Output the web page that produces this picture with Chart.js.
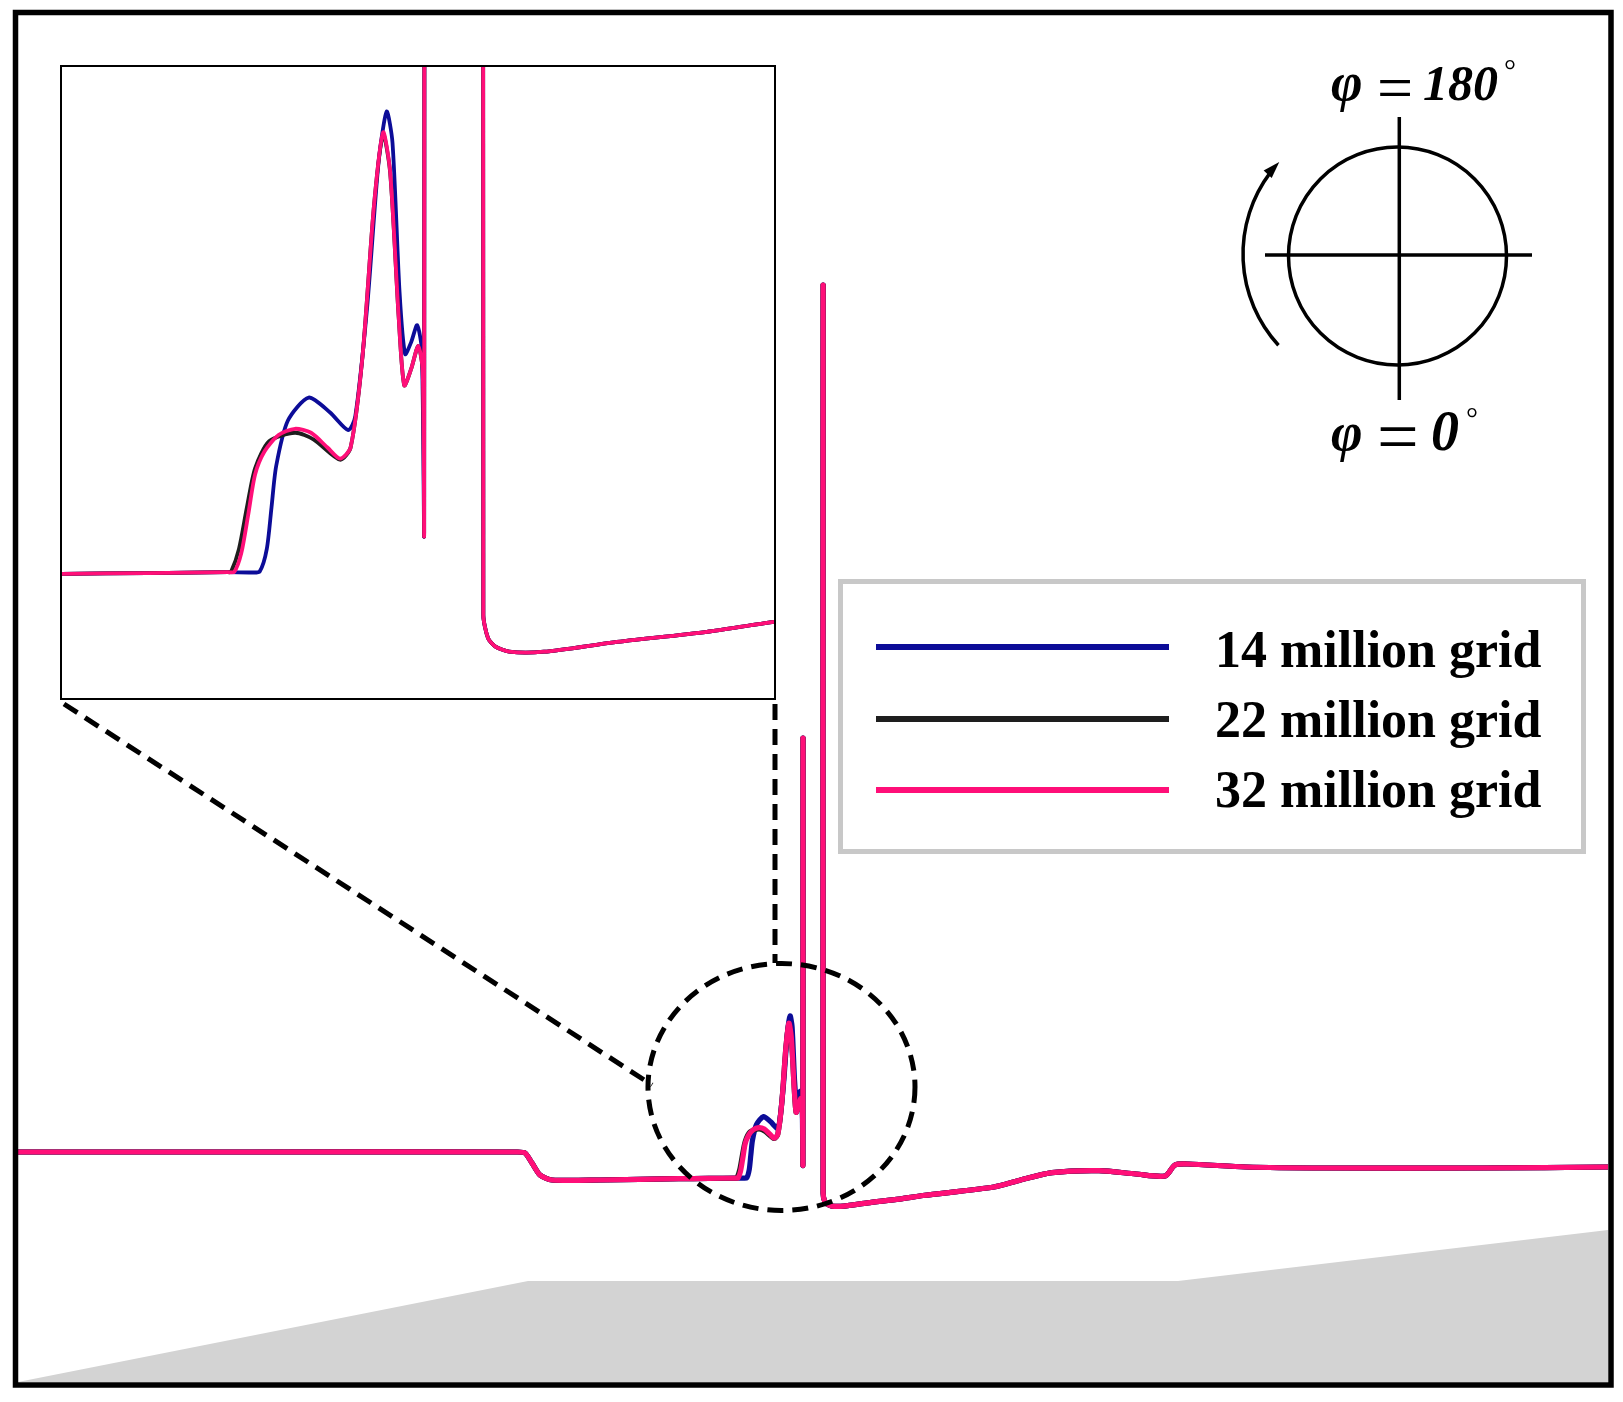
<!DOCTYPE html>
<html>
<head>
<meta charset="utf-8">
<script src="https://cdn.jsdelivr.net/npm/chart.js@4.4.1/dist/chart.umd.min.js"></script>
<style>
  body { margin: 0; background: #fff; }
  #page { position: relative; width: 1623px; height: 1402px; overflow: hidden; background: #fff; }
  #main { position: absolute; left: 0; top: 0; }
  #inset-box { position: absolute; left: 60px; top: 65px; width: 716px; height: 635px;
    border: 2px solid #000; box-sizing: border-box; background: #fff; }
  #inset { display: block; }
  #legend { position: absolute; left: 838px; top: 579px; width: 748px; height: 275px;
    border: 5px solid #c8c8c8; box-sizing: border-box; background: #fff; }
  .lg-line { position: absolute; height: 6px; }
  .lg-text { position: absolute; font: bold 52px "Liberation Serif", "Times New Roman", serif;
    line-height: 52px; white-space: nowrap; color: #000; }
  .lbl { position: absolute; font-family: "Liberation Serif", "Times New Roman", serif;
    white-space: nowrap; color: #000; }
</style>
</head>
<body>
<div id="page">
  <canvas id="main" width="1623" height="1402"></canvas>
  <div id="inset-box"><canvas id="inset" width="712" height="631"></canvas></div>
  <div id="legend"></div>
</div>
<script>
// ---- data (x = position along the surface, y = pressure, arbitrary units) ----

// part of the surface where all three grids agree (upstream of the peak)
const upstreamX = [0, 23.2, 49.9, 50.7, 51.4, 52.2, 53.4, 58.2, 66.08, 69.06, 71.8];
const upstreamY = [23.0, 23.0, 23.0, 22.9, 21.9, 20.7, 20.2, 20.2, 20.33, 20.36, 20.39];

// peak region, different for each grid
const peak14X = [72.6, 72.88, 73.12, 73.28, 73.44, 73.84, 74.55, 75.27, 75.90, 76.14, 76.54, 76.93, 77.21, 77.41, 77.65, 77.84, 78.05, 78.25, 78.41];
const peak14Y = [20.38, 20.42, 21.21, 22.67, 24.13, 25.73, 26.54, 26.02, 25.39, 25.88, 29.67, 34.78, 36.61, 35.51, 30.26, 28.07, 28.50, 29.09, 28.22];

const peak22X = [71.90, 72.17, 72.44, 72.72, 73.20, 74.08, 74.71, 75.62, 75.98, 76.38, 76.78, 77.09, 77.33, 77.62, 77.81, 78.05, 78.29, 78.44];
const peak22Y = [20.40, 21.21, 22.67, 24.05, 25.00, 25.30, 25.07, 24.35, 24.78, 27.92, 33.32, 35.80, 34.45, 29.38, 26.97, 27.56, 28.36, 27.48];

const peak32X = [72.01, 72.25, 72.48, 72.72, 73.04, 73.52, 74.08, 74.63, 75.19, 75.62, 75.98, 76.38, 76.78, 77.09, 77.33, 77.62, 77.81, 78.05, 78.29, 78.44];
const peak32Y = [20.40, 21.06, 22.38, 23.83, 24.64, 25.22, 25.44, 25.30, 24.78, 24.39, 24.78, 27.92, 33.32, 35.88, 34.49, 29.38, 26.97, 27.56, 28.36, 27.48];

// spikes and downstream part, shared (null = break in the line)
const downX = [78.49, 78.50, 79.5, 80.51, 80.51, 80.67, 80.91, 81.39, 82.58, 84.96, 88.14, 90.49, 97.6, 100.25, 103.4, 108.1, 111.8, 114.7, 115.7, 117.0, 122.8, 130.7, 146.4, 159.0];
const downY = [21.79, 64.4, null, 109.7, 18.87, 18.07, 17.78, 17.59, 17.59, 17.92, 18.29, 18.65, 19.5, 20.2, 20.93, 21.13, 20.8, 20.6, 21.7, 21.8, 21.5, 21.4, 21.4, 21.5];

// grey body outline under the curve
const bodyX = [0, 51.0, 116.0, 159];
const bodyY = [0, 10.1, 10.1, 15.2];

// window shown in the magnified inset
const insetXRange = [66.13, 90.43];
const insetYRange = [15.96, 38.18];

const seriesNames = ['14 million grid', '22 million grid', '32 million grid'];
const seriesColors = ['#0c0c98', '#1e1e1e', '#ff0f78'];

// ---- helpers ----
function pts(xs, ys) {
  return xs.map((v, i) => ({ x: v, y: ys[i] }));
}
function series(peakX, peakY) {
  return pts(upstreamX, upstreamY).concat(pts(peakX, peakY), pts(downX, downY));
}

function lineSets(width) {
  // pink first so it is painted on top, blue at the bottom
  return [
    { label: seriesNames[2], data: series(peak32X, peak32Y), borderColor: seriesColors[2] },
    { label: seriesNames[1], data: series(peak22X, peak22Y), borderColor: seriesColors[1] },
    { label: seriesNames[0], data: series(peak14X, peak14Y), borderColor: seriesColors[0] },
  ].map(d => Object.assign(d, {
    borderWidth: width, pointRadius: 0, tension: 0.25, fill: false,
    borderJoinStyle: 'round', borderCapStyle: 'round', spanGaps: false,
  }));
}

// ---- decorations on the main chart (frame, zoom circle, phase sketch) ----
const decor = {
  id: 'decor',
  afterDatasetsDraw(chart) {
    const { ctx, chartArea: a, scales } = chart;
    const X = v => scales.x.getPixelForValue(v);
    const Y = v => scales.y.getPixelForValue(v);
    const u = X(1) - X(0); // pixels per unit
    ctx.save();

    // outer frame
    ctx.strokeStyle = '#000';
    ctx.lineWidth = 5.5;
    ctx.strokeRect(a.left - 2.5, a.top + 0.5, a.width + 5.5, a.height + 2.5);

    // dashed zoom ellipse and connectors to the inset
    ctx.lineWidth = 5;
    ctx.setLineDash([16, 9]);
    ctx.beginPath();
    ctx.ellipse(X(76.35), Y(29.5), 13.35 * u, 12.35 * u, 0, 0, Math.PI * 2);
    ctx.stroke();
    ctx.beginPath();
    ctx.moveTo(X(4.6), Y(67.8));
    ctx.lineTo(X(63.4), Y(29.7));
    ctx.moveTo(X(75.7), Y(67.8));
    ctx.lineTo(X(75.7), Y(41.9));
    ctx.stroke();
    ctx.setLineDash([]);

    // phase sketch: circle with cross
    ctx.lineWidth = 3.5;
    ctx.beginPath();
    ctx.arc(X(137.95), Y(112.6), 10.9 * u, 0, Math.PI * 2);
    ctx.stroke();
    ctx.beginPath();
    ctx.moveTo(X(124.7), Y(112.7));
    ctx.lineTo(X(151.4), Y(112.7));
    ctx.moveTo(X(138.13), Y(126.5));
    ctx.lineTo(X(138.13), Y(98.2));
    ctx.stroke();

    // rotation arrow
    const cx = X(136.0), cy = Y(112.8), r = 13.5 * u;
    const a0 = 137.5 * Math.PI / 180, aTip = 223 * Math.PI / 180;
    const head = 17;
    ctx.beginPath();
    ctx.arc(cx, cy, r, a0, aTip - (head - 3) / r);
    ctx.stroke();
    const tx = cx + r * Math.cos(aTip), ty = cy + r * Math.sin(aTip);
    const dx = -Math.sin(aTip), dy = Math.cos(aTip);
    const bx = tx - head * dx, by = ty - head * dy;
    ctx.fillStyle = '#000';
    ctx.beginPath();
    ctx.moveTo(tx, ty);
    ctx.lineTo(bx - 5.5 * dy, by + 5.5 * dx);
    ctx.lineTo(bx + 5.5 * dy, by - 5.5 * dx);
    ctx.closePath();
    ctx.fill();

    ctx.restore();
  }
};

// ---- main chart ----
const mainSets = lineSets(5.2);
mainSets.push({
  label: '', data: pts(bodyX, bodyY), borderWidth: 0, pointRadius: 0, tension: 0,
  fill: 'origin', backgroundColor: '#d3d3d3',
});

const mainChart = new Chart(document.getElementById('main'), {
  type: 'line',
  data: { datasets: mainSets },
  options: {
    responsive: false,
    animation: false,
    layout: { padding: { left: 18, right: 15, top: 12, bottom: 20 } },
    scales: {
      x: { type: 'linear', min: 0, max: 159, display: false },
      y: { type: 'linear', min: 0, max: 137, display: false },
    },
    plugins: { legend: { display: false }, tooltip: { enabled: false } },
    events: [],
  },
  plugins: [decor],
});

// ---- magnified inset ----
new Chart(document.getElementById('inset'), {
  type: 'line',
  data: { datasets: lineSets(3.8) },
  options: {
    responsive: false,
    animation: false,
    layout: { padding: 0 },
    scales: {
      x: { type: 'linear', min: insetXRange[0], max: insetXRange[1], display: false },
      y: { type: 'linear', min: insetYRange[0], max: insetYRange[1], display: false },
    },
    plugins: { legend: { display: false }, tooltip: { enabled: false } },
    events: [],
  },
});

// ---- legend box built from the chart's datasets ----
const legend = document.getElementById('legend');
mainChart.data.datasets.filter(d => d.label).reverse().forEach((d, i) => {
  const line = document.createElement('div');
  line.className = 'lg-line';
  line.style.left = '33px';
  line.style.width = '293px';
  line.style.top = (60 + i * 71.5) + 'px';
  line.style.background = d.borderColor;
  legend.appendChild(line);
  const txt = document.createElement('div');
  txt.className = 'lg-text';
  txt.style.left = '372px';
  txt.style.top = (39.5 + i * 70) + 'px';
  txt.textContent = d.label;
  legend.appendChild(txt);
});

// ---- phase labels ----
const page = document.getElementById('page');
function place(text, left, baseline, size, style, weight) {
  const el = document.createElement('div');
  el.className = 'lbl';
  el.textContent = text;
  el.style.fontSize = size + 'px';
  el.style.lineHeight = size + 'px';
  el.style.fontStyle = style;
  el.style.fontWeight = weight;
  el.style.left = left + 'px';
  el.style.top = (baseline - 0.8375 * size) + 'px';
  page.appendChild(el);
  return el;
}
place('φ', 1331, 100, 54, 'italic', 'bold');
place('=', 1377, 110, 64, 'normal', 'normal');
place('180', 1423, 100, 50, 'italic', 'bold');
place('°', 1504, 80, 30, 'normal', 'normal');

place('φ', 1331, 450, 54, 'italic', 'bold');
place('=', 1377, 461, 74, 'normal', 'normal');
place('0', 1431, 450, 56, 'italic', 'bold');
place('°', 1466, 428, 30, 'normal', 'normal');
</script>
</body>
</html>
